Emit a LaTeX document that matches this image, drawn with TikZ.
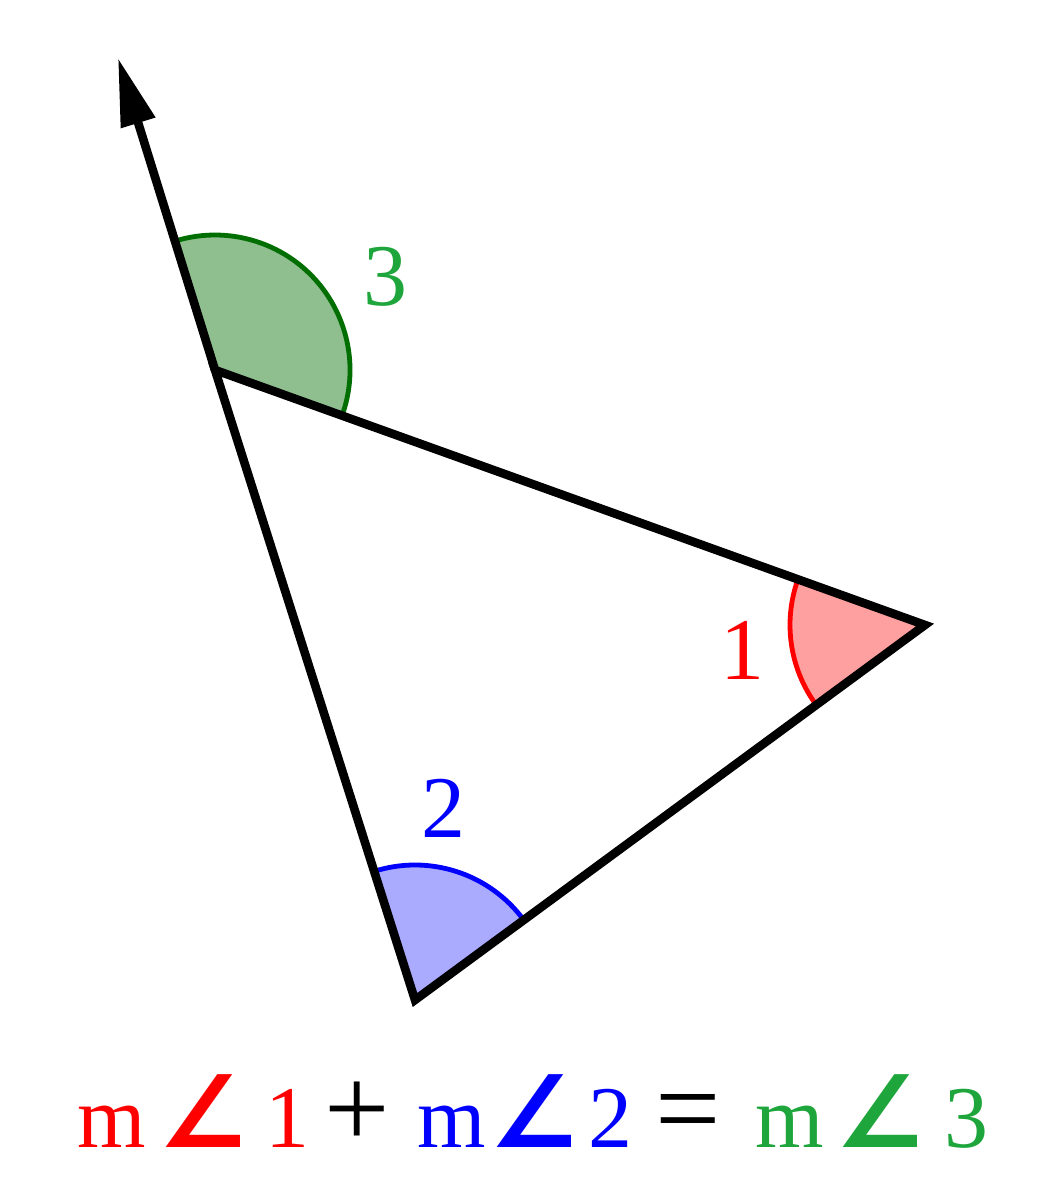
\documentclass[tikz,border=0pt]{standalone}
\usepackage{fontspec}
\setmainfont{Liberation Serif}
\newfontfamily\symfont{DejaVu Sans}
\usetikzlibrary{angles,arrows.meta}
\definecolor{arcred}{RGB}{255,0,0}
\definecolor{fillred}{RGB}{255,160,160}
\definecolor{arcblue}{RGB}{0,0,255}
\definecolor{fillblue}{RGB}{170,170,255}
\definecolor{arcgreen}{RGB}{0,110,0}
\definecolor{fillgreen}{RGB}{143,190,143}
\definecolor{txtgreen}{RGB}{30,165,60}
\tikzset{
  side/.style={line width=4.3pt, line join=miter},
  sector/.style={line width=2.4pt, angle radius=67.5pt},
  eq/.style={anchor=base, inner sep=0pt, font=\fontsize{44}{50}\selectfont},
  op/.style={anchor=base, inner sep=0pt, font=\fontsize{58}{60}\selectfont},
  ang/.style={anchor=base, inner sep=0pt, font=\symfont\bfseries\fontsize{50}{50}\selectfont},
  lab/.style={inner sep=0pt, font=\fontsize{44}{50}\selectfont}
}
\begin{document}
\begin{tikzpicture}[x=0.5pt,y=0.5pt]
\useasboundingbox (0,0) rectangle (1049,1200);
\coordinate (A) at (215,830);
\coordinate (B) at (925,575);
\coordinate (C) at (415,200);
\coordinate (T) at (118,1142);
\pic[sector, draw=arcgreen, fill=fillgreen] {angle=B--A--T};
\pic[sector, draw=arcred, fill=fillred] {angle=A--B--C};
\pic[sector, draw=arcblue, fill=fillblue] {angle=B--C--A};
\draw[side] (A) -- (B) -- (C) -- cycle;
\draw[side, -{Triangle[length=34pt,width=17pt]}] (A) -- (T);
\node[lab, text=txtgreen] (l3) at (385,923) {3};
\node[lab, text=arcred] (l1) at (742,550) {1};
\node[lab, text=arcblue] (l2) at (443,392) {2};
\node[eq, text=arcred] (m1) at (112,52) {m};
\node[ang, text=arcred] (a1) at (203,52) {∠};
\node[eq, text=arcred] (d1) at (287,52) {1};
\node[op] (plus) at (357,52) {+};
\node[eq, text=arcblue] (m2) at (452,52) {m};
\node[ang, text=arcblue] (a2) at (534,52) {∠};
\node[eq, text=arcblue] (d2) at (610,52) {2};
\node[op] (eqs) at (688,52) {=};
\node[eq, text=txtgreen] (m3) at (790,52) {m};
\node[ang, text=txtgreen] (a3) at (880,52) {∠};
\node[eq, text=txtgreen] (d3) at (966,52) {3};
\end{tikzpicture}
\end{document}
